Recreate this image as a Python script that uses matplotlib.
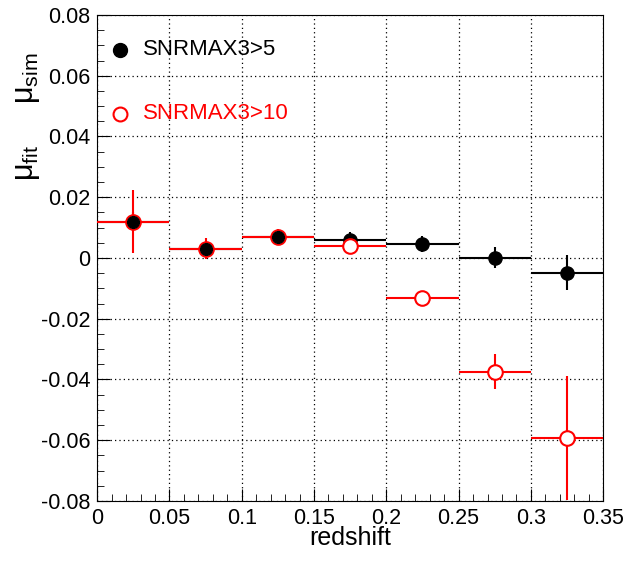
import numpy as np
import matplotlib.pyplot as plt
from matplotlib.ticker import MultipleLocator

plt.rcParams['font.family'] = ['Liberation Sans', 'DejaVu Sans']
plt.rcParams['mathtext.fontset'] = 'custom'
plt.rcParams['mathtext.rm'] = 'Liberation Sans'
plt.rcParams['mathtext.it'] = 'Liberation Sans'

z = [0.025, 0.075, 0.125, 0.175, 0.225, 0.275, 0.325]
zerr = [0.025] * 7

# SNRMAX3>5
d5 = [0.012, 0.003, 0.007, 0.006, 0.0046, 0.0001, -0.0048]
e5 = [0.003, 0.002, 0.002, 0.0025, 0.0025, 0.0035, 0.0058]

# SNRMAX3>10
d10 = [0.012, 0.003, 0.007, 0.0041, -0.0132, -0.0375, -0.0593]
e10 = [0.0105, 0.0035, 0.0025, 0.002, 0.0016, 0.0058, 0.0205]

fig = plt.figure(figsize=(6.39, 5.66), dpi=100)
ax = fig.add_axes([0.152, 0.115, 0.792, 0.8585])

ax.errorbar(z, d5, xerr=zerr, yerr=e5, fmt='o', color='black', ms=9.5,
            elinewidth=1.5, capsize=0, zorder=3)
ax.errorbar(z, d10, xerr=zerr, yerr=e10, fmt='o', color='red', mfc='white',
            mec='red', mew=1.5, ms=10.5, elinewidth=1.5, capsize=0, zorder=4)
# black markers on top where they overlap
ax.plot(z[:3], d5[:3], 'o', color='black', ms=8.5, zorder=5)

ax.set_xlim(0, 0.35)
ax.set_ylim(-0.08, 0.08)
ax.xaxis.set_minor_locator(MultipleLocator(0.01))
ax.yaxis.set_minor_locator(MultipleLocator(0.005))
ax.set_xticks(np.arange(0, 0.351, 0.05))
ax.set_xticklabels(['0', '0.05', '0.1', '0.15', '0.2', '0.25', '0.3', '0.35'])
ax.set_yticks(np.arange(-0.08, 0.081, 0.02))
ax.set_yticklabels(['-0.08', '-0.06', '-0.04', '-0.02', '0', '0.02', '0.04', '0.06', '0.08'])
ax.tick_params(which='both', direction='in', right=False, top=False, labelsize=15.5)
ax.tick_params(which='major', length=9, pad=5)
ax.tick_params(which='minor', length=5)
ax.grid(which='major', linestyle=(0, (1, 2.5)), color='black', linewidth=0.9)

ax.set_xlabel('redshift', fontsize=18, labelpad=-2)
ax.set_ylabel(r'$\mu_{\rm fit}$     $\mu_{\rm sim}$', fontsize=22)
ax.yaxis.set_label_coords(-0.108, 0.79)

ax.plot([0.016], [0.0685], 'o', color='black', ms=10)
ax.text(0.0315, 0.0685, 'SNRMAX3>5', fontsize=16, va='center')
ax.plot([0.016], [0.0475], 'o', color='red', mfc='white', mew=1.5, ms=10)
ax.text(0.0315, 0.0475, 'SNRMAX3>10', fontsize=16, va='center', color='red')

plt.savefig('out.png', dpi=100)
